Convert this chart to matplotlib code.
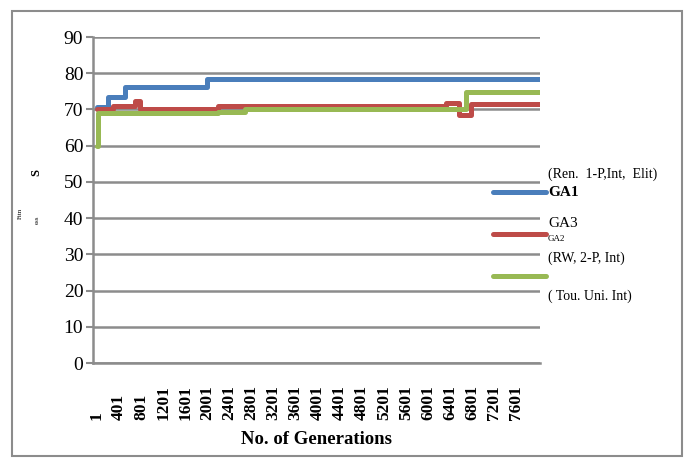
import matplotlib.pyplot as plt
from matplotlib.lines import Line2D
from matplotlib.patches import Rectangle

# generations where each GA's best fitness changes (step plot)
gen_ga1 = [1, 200, 510, 2000, 8030]
fit_ga1 = [70.8, 73.3, 76.2, 78.5, 78.5]

gen_ga2 = [1, 290, 690, 780, 2200, 6330, 6565, 6780, 8030]
fit_ga2 = [70.0, 71.0, 72.3, 70.0, 70.9, 71.8, 68.6, 71.5, 71.5]

gen_ga3 = [1, 20, 2200, 2690, 6690, 8030]
fit_ga3 = [60.0, 69.1, 69.3, 70.2, 74.9, 74.9]

x_ticks = list(range(1, 7602, 400))
y_ticks = list(range(0, 91, 10))

grid_col = "#8c8c8c"
c_blue, c_red, c_green = "#4a7ebb", "#be4b48", "#98b954"

plt.rcParams["font.family"] = ["Liberation Serif", "DejaVu Serif"]

fig = plt.figure(figsize=(6.91, 4.58), dpi=100)
ax = fig.add_axes([0.1346, 0.2074, 0.6469, 0.7118])

for g, f, c in [(gen_ga1, fit_ga1, c_blue), (gen_ga2, fit_ga2, c_red), (gen_ga3, fit_ga3, c_green)]:
    ax.step(g, f, where="post", color=c, lw=3.6,
            solid_capstyle="round", solid_joinstyle="round", zorder=3)

ax.set_xlim(-70, 8030)
ax.set_ylim(0, 90)
ax.set_yticks(y_ticks)
ax.set_xticks(x_ticks)
# labels end on one line (bottom aligned), as in the source
ax.set_xticklabels([str(t) for t in x_ticks], rotation=90, fontsize=12.5,
                   fontweight="bold", va="bottom")
ax.tick_params(axis="y", labelsize=14, length=5, width=1.5, color=grid_col, pad=2)
ax.tick_params(axis="x", length=0, pad=41)
ax.grid(axis="y", color=grid_col, lw=1.8)
ax.set_axisbelow(True)
for s in ["top", "right"]:
    ax.spines[s].set_visible(False)
for s in ["left", "bottom"]:
    ax.spines[s].set_color(grid_col)
    ax.spines[s].set_linewidth(1.8)

ax.set_xlabel("No. of Generations", fontsize=13.5, fontweight="bold", labelpad=8)

# odd broken y label from the source
fig.text(36 / 691, 1 - 172 / 458, "S", rotation=90, fontsize=9, fontweight="bold",
         ha="center", va="center")
fig.text(20 / 691, 1 - 213 / 458, "Fitn", rotation=90, fontsize=5, ha="center", va="center")
fig.text(37 / 691, 1 - 220 / 458, "ess", rotation=90, fontsize=5, ha="center", va="center")

# hand made legend on the right
def px(x, y):
    return x / 691, 1 - y / 458

for y, c in [(192, c_blue), (234, c_red), (276, c_green)]:
    (x0, y0), (x1, _) = px(493, y), px(546, y)
    fig.add_artist(Line2D([x0, x1], [y0, y0], color=c, lw=3.6,
                          solid_capstyle="round", transform=fig.transFigure))

legend_txt = [
    (174, "(Ren.  1-P,Int,  Elit)", 10, "normal"),
    (193, "GA1", 11, "bold"),
    (223, "GA3", 11, "normal"),
    (239, "GA2", 6.5, "normal"),
    (258, "(RW, 2-P, Int)", 10, "normal"),
    (296, "( Tou. Uni. Int)", 10, "normal"),
]
for y, t, fs, fw in legend_txt:
    fig.text(*px(548, y), t, fontsize=fs, fontweight=fw, ha="left", va="center")

# outer chart border
fig.add_artist(Rectangle(px(12, 456), 670 / 691, 445 / 458, transform=fig.transFigure,
                         fill=False, edgecolor=grid_col, lw=1.5))

fig.savefig("out.png", dpi=100)
